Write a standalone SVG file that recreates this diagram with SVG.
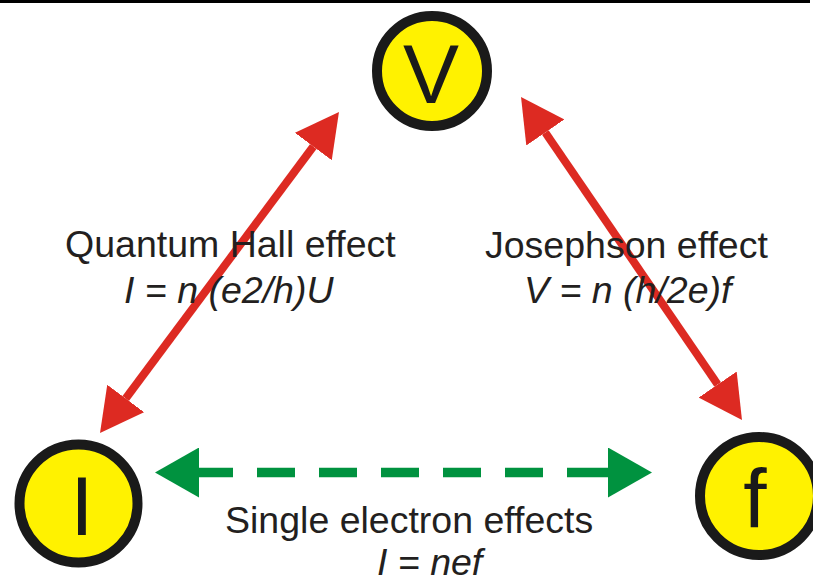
<svg xmlns="http://www.w3.org/2000/svg" width="813" height="583" viewBox="0 0 813 583">
  <style>
    .node circle { fill: #FFF200; stroke: #1a1a1a; stroke-width: 10; }
    .node text { font-family: "Liberation Sans", Arial, sans-serif; font-size: 84px; fill: #1a1a1a; text-anchor: middle; }
    .label { font-family: "Liberation Sans", Arial, sans-serif; font-size: 37.5px; fill: #231F20; }
    .it { font-style: italic; }
    .red { stroke: #DD2A22; stroke-width: 8; fill: none; }
    .green { stroke: #00923F; stroke-width: 9.5; fill: none; }
  </style>
  <defs>
    <marker id="headRed" viewBox="0 -23 43 46" refX="0" refY="0" markerWidth="43" markerHeight="46" markerUnits="userSpaceOnUse" orient="auto-start-reverse">
      <path d="M0,-23 L43,0 L0,23 z" fill="#DD2A22"/>
    </marker>
    <marker id="headGreen" viewBox="0 -25 44 50" refX="0" refY="0" markerWidth="44" markerHeight="50" markerUnits="userSpaceOnUse" orient="auto-start-reverse">
      <path d="M0,-25 L44,0 L0,25 z" fill="#00923F"/>
    </marker>
  </defs>
  <rect x="0" y="0" width="810" height="3" fill="#000"/>

  <g id="connectors">
    <line class="red" x1="125.7" y1="398.5" x2="313.3" y2="146.5" marker-start="url(#headRed)" marker-end="url(#headRed)"/>
    <line class="red" x1="545.3" y1="132.5" x2="717.7" y2="384.5" marker-start="url(#headRed)" marker-end="url(#headRed)"/>
    <line class="green" x1="199" y1="472.5" x2="608" y2="472.5" stroke-dasharray="34 24 38 24 38 24 38 24 38 24 38 24 41 0" marker-start="url(#headGreen)" marker-end="url(#headGreen)"/>
  </g>

  <g id="labels">
    <text class="label" x="65" y="257">Quantum Hall effect</text>
    <text class="label it" x="124" y="303">I = n (e2/h)U</text>
    <text class="label" x="485" y="258">Josephson effect</text>
    <text class="label it" x="524" y="303">V = n (h/2e)f</text>
    <text class="label" x="225" y="533" font-size="37">Single electron effects</text>
    <text class="label it" x="377" y="575" font-size="37">I = nef</text>
  </g>

  <g id="node-V" class="node">
    <circle cx="432" cy="71" r="55" stroke-width="9"/>
    <text x="431" y="103">V</text>
  </g>
  <g id="node-I" class="node">
    <circle cx="78.5" cy="503.5" r="59"/>
    <text x="82" y="535">I</text>
  </g>
  <g id="node-f" class="node">
    <circle cx="759" cy="496" r="59"/>
    <text x="755" y="528">f</text>
  </g>
</svg>
